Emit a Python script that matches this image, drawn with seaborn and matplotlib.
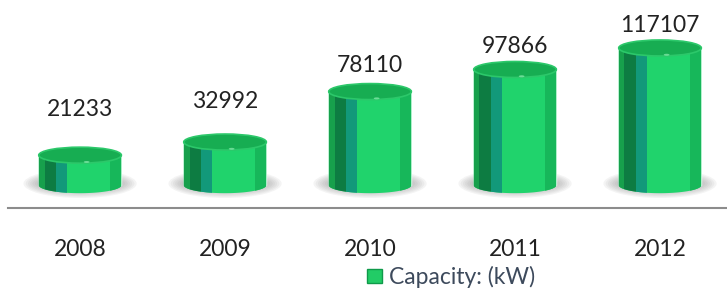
import numpy as np
import matplotlib
matplotlib.use("Agg")
import matplotlib.pyplot as plt
import seaborn as sns
from matplotlib.patches import Ellipse, Polygon, Rectangle, Patch

# data
years = ["2008", "2009", "2010", "2011", "2012"]
capacity_kw = [21233, 32992, 78110, 97866, 117107]
legend_label = "Capacity: (kW)"

sns.set_theme(style="white")
plt.rcParams["font.family"] = ["Lato", "DejaVu Sans"]

BRIGHT = "#20d36c"
TOP = "#17ad52"
RIM = "#2cc86a"
# stripes of the cylinder body as fractions of the bar width
STRIPES = [(0.00, 0.07, "#17a04c"), (0.07, 0.21, "#0d7c42"),
           (0.21, 0.34, "#12997a"), (0.86, 1.00, "#17b75a")]

FIG_W, FIG_H = 727, 290
fig = plt.figure(figsize=(FIG_W / 100, FIG_H / 100), dpi=100)
ax = fig.add_axes([8 / FIG_W, (FIG_H - 208) / FIG_H, 719 / FIG_W, 208 / FIG_H])

sns.barplot(x=years, y=capacity_kw, color=BRIGHT, saturation=1, width=0.57, ax=ax, zorder=2)

ax.set_xlim(-0.497, 4.462)
ax.set_ylim(-26000, 160000)
units_per_px = (160000 + 26000) / 208
floor = -5600           # centre of the bottom ellipse
ry_px = 8
ry = ry_px * units_per_px
vmax = max(capacity_kw)

bars = list(ax.patches)
for bar, val in zip(bars, capacity_kw):
    x0, w = bar.get_x(), bar.get_width()
    top = bar.get_height()
    cx = x0 + w / 2
    bar.set_y(floor)
    bar.set_height(top - floor)

    # soft grey shadow around the base
    for k in range(7):
        ax.add_patch(Ellipse((cx, floor + ry * 0.2), w * (1.04 + 0.055 * k), ry * (1.8 + 0.3 * k),
                             fc="#8a8a8a", ec="none", alpha=0.09, zorder=1))

    # silhouette with rounded bottom
    th = np.linspace(np.pi, 2 * np.pi, 60)
    pts = np.column_stack([cx + (w / 2) * np.cos(th), floor + ry * np.sin(th)])
    pts = np.vstack([pts, [[x0 + w, top], [x0, top]]])
    sil = Polygon(pts, closed=True, fc=BRIGHT, ec="none", zorder=2)
    ax.add_patch(sil)

    for f0, f1, col in STRIPES:
        r = Rectangle((x0 + f0 * w, floor - ry * 1.1), (f1 - f0) * w, top - floor + ry * 1.1,
                      fc=col, ec="none", zorder=3)
        ax.add_patch(r)
        r.set_clip_path(sil)

    ax.add_patch(Ellipse((cx, top), w, 2 * ry, fc=TOP, ec=RIM, lw=1.2, zorder=4))
    ax.add_patch(Ellipse((cx + 0.08 * w, top - ry * 0.85), w * 0.07, ry * 0.25,
                         fc="#7fe6a6", ec="none", alpha=0.8, zorder=5))

    pad = 14 + 36 * (1 - val / vmax) ** 2
    ax.annotate(f"{val}", (cx, top), xytext=(0, ry_px + pad), textcoords="offset pixels",
                ha="center", va="center", fontsize=16.5, color="#222222")

for side in ["left", "right", "top"]:
    ax.spines[side].set_visible(False)
ax.spines["bottom"].set_color("#8c8c8c")
ax.spines["bottom"].set_linewidth(1.5)
ax.set_yticks([])
ax.set_xlabel("")
ax.set_ylabel("")
ax.tick_params(axis="x", length=0, pad=22, labelsize=16.5, labelcolor="#222222")

handle = Patch(fc="#22cc66", ec="#0f9a4a", lw=1)
fig.legend(handles=[handle], labels=[legend_label], loc="center",
           bbox_to_anchor=(451 / FIG_W, 1 - 277 / FIG_H), frameon=False, fontsize=16.5,
           handlelength=0.66, handleheight=0.56, handletextpad=0.3, labelcolor="#3d4a5c",
           borderpad=0)

fig.savefig("out.png", dpi=100)
